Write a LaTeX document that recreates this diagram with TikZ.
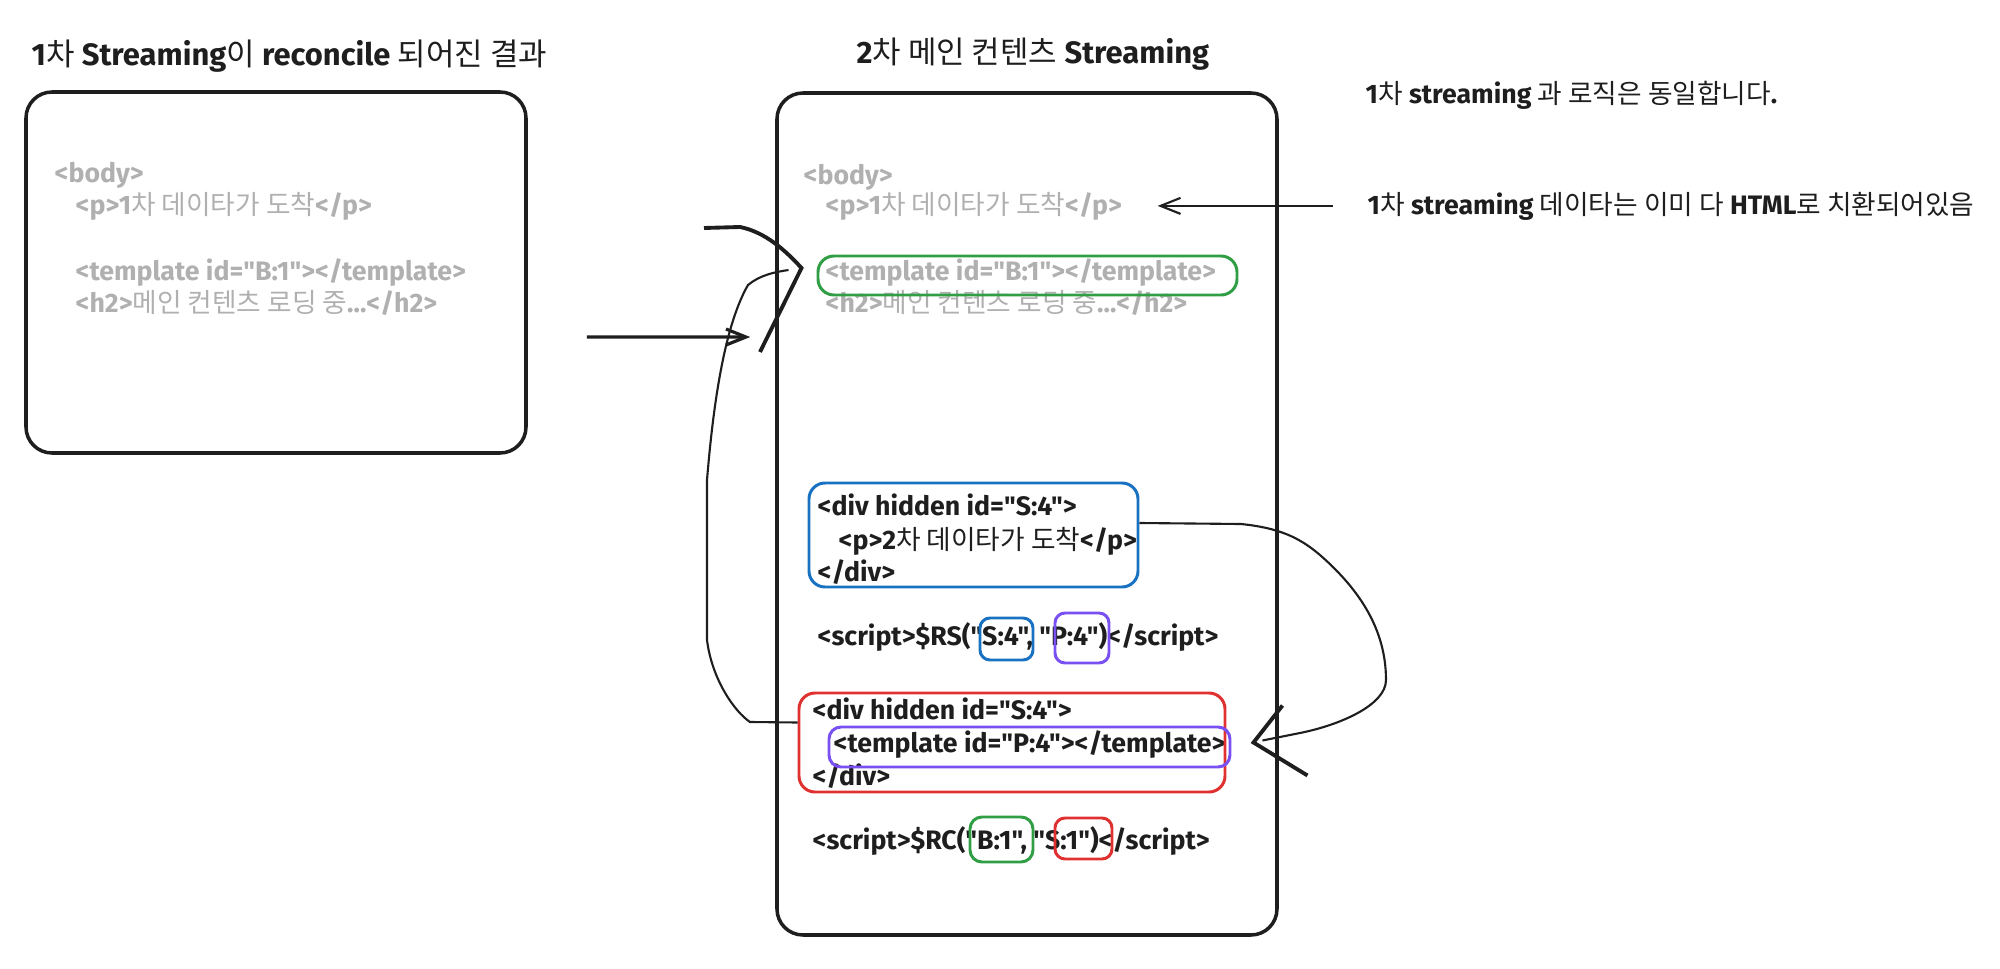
\documentclass[tikz,border=0pt]{standalone}
\usepackage{fontspec}
\usepackage{xcolor}
\setmainfont{Fira Sans}[Ligatures=TeXOff]
\newfontfamily\kr{Noto Sans CJK KR}
\usetikzlibrary{arrows.meta, calc}
\definecolor{ink}{HTML}{1E1E1E}
\definecolor{ghost}{HTML}{B0B0B0}
\definecolor{exgreen}{HTML}{2F9E44}
\definecolor{exblue}{HTML}{1971C2}
\definecolor{exred}{HTML}{E03131}
\definecolor{exviolet}{HTML}{7950F2}
\newcommand{\ko}[1]{{\kr\mdseries #1}}

\begin{document}
\begin{tikzpicture}[x=0.1mm, y=-0.1mm,
        frame/.style={draw=ink, line width=1pt, rounded corners=2.6mm},
        hilite/.style={line width=0.85pt, rounded corners=1.6mm},
        code/.style={anchor=base west, inner sep=0pt, text=ink,
            font=\bfseries\fontsize{7.6}{8}\selectfont},
        heading/.style={anchor=base west, inner sep=0pt, text=ink,
            font=\bfseries\fontsize{8.8}{10}\selectfont},
        wire/.style={draw=ink, line width=0.6pt},
        flow/.style={draw=ink, line width=0.9pt, -{Straight Barb[length=2mm, width=1.6mm]}}
    ]
        \useasboundingbox (0,0) rectangle (2000,969);

        % Titles
        \node[heading] (title1) at (31,65) {1\ko{차} Streaming\ko{이} reconcile \ko{되어진 결과}};
        \node[heading] (title2) at (856,63) {2\ko{차 메인 컨텐츠} Streaming};

        % Draw the two frames
        \node[frame, minimum width=50mm, minimum height=36.1mm] (box1) at (276,272.5) {};
        \node[frame, minimum width=50mm, minimum height=84.2mm] (box2) at (1027,514) {};

        % First result
        \node[code, text=ghost] (lbody) at (54,182) {<body>};
        \node[code, text=ghost] (lp) at (75,215) {<p>1\ko{차 데이타가 도착}</p>};
        \node[code, text=ghost] (ltpl) at (75,280) {<template id="B:1"></template>};
        \node[code, text=ghost] (lh2) at (75,312) {<h2>\ko{메인 컨텐츠 로딩 중}...</h2>};

        % Second streaming, old part
        \node[code, text=ghost] (mbody) at (803,184) {<body>};
        \node[code, text=ghost] (mp) at (825,215) {<p>1\ko{차 데이타가 도착}</p>};
        \node[code, text=ghost] (mtpl) at (825,281) {<template id="B:1"></template>};
        \node[code, text=ghost] (mh2) at (825,312) {<h2>\ko{메인 컨텐츠 로딩 중}...</h2>};
        \node[draw=exgreen, hilite, minimum width=41.9mm, minimum height=3.9mm] (greenbox) at (1027.5,275.5) {};

        % Second streaming, new part
        \node[code] (sdiv) at (817,515) {<div hidden id="S:4">};
        \node[code] (sp) at (838,549) {<p>2\ko{차 데이타가 도착}</p>};
        \node[code] (sdivend) at (817,581) {</div>};
        \node[draw=exblue, hilite, minimum width=32.9mm, minimum height=10.4mm] (bluebox) at (973.5,535) {};

        \node[code] (rs) at (817,645) {<script>\$RS("S:4", "P:4")</script>};
        \node[draw=exblue, hilite, rounded corners=1mm, minimum width=5.3mm, minimum height=4.2mm] (rsS) at (1006.5,639) {};
        \node[draw=exviolet, hilite, rounded corners=1mm, minimum width=5.4mm, minimum height=5mm] (rsP) at (1082,638) {};

        \node[code] (bdiv) at (812,719) {<div hidden id="S:4">};
        \node[code] (btpl) at (833,752) {<template id="P:4"></template>};
        \node[code] (bdivend) at (812,785) {</div>};
        \node[draw=exred, hilite, minimum width=42.6mm, minimum height=9.9mm] (redbox) at (1012,742.5) {};
        \node[draw=exviolet, hilite, rounded corners=1.2mm, minimum width=40.1mm, minimum height=4mm] (violetbox) at (1029.5,747) {};

        \node[code] (rc) at (812,849) {<script>\$RC("B:1", "S:1")</script>};
        \node[draw=exgreen, hilite, rounded corners=1.2mm, minimum width=6.3mm, minimum height=4.5mm] (rcB) at (1001.5,839.5) {};
        \node[draw=exred, hilite, rounded corners=1mm, minimum width=5.7mm, minimum height=4.1mm] (rcS) at (1083.5,838.5) {};

        % Notes
        \node[code] (note1) at (1365,103) {1\ko{차} streaming \ko{과 로직은 동일합니다}.};
        \node[code] (note2) at (1367,214) {1\ko{차} streaming \ko{데이타는 이미 다} HTML\ko{로 치환되어있음}};

        % Arrows
        \draw[flow] ($(box1.east)+(59,64.5)$) -- ($(box2.west)+(-25,-177)$);
        \draw[flow, line width=0.6pt] ([xshift=-3.4mm]note2.west) -- ([xshift=3.5mm]note2.west -| mp.east);

        \coordinate (oldB) at (704,228);
        \coordinate (tipB) at ($(greenbox.west)+(-15,-7.5)$);
        \draw[wire, line width=1.1pt] (oldB) -- (740,227) .. controls (765,232) and (785,250) .. (tipB) -- (760,352);
        \draw[wire] ([yshift=2mm]redbox.west) -- (750,722) .. controls (735,712) and (712,680) .. (707,640)
            -- (707,480) .. controls (712,420) and (722,330) .. (748,285)
            .. controls (760,275) and (775,272) .. ($(greenbox.west)+(-28,-5.5)$);

        \coordinate (tipS) at ([xshift=2.7mm]redbox.east);
        \draw[wire] ([yshift=1.2mm]bluebox.east) -- (1241,524) .. controls (1280,528) and (1300,538) .. (1320,555)
            .. controls (1360,590) and (1386,630) .. (1386,680)
            .. controls (1386,705) and (1340,725) .. (1300,733) -- ($(tipS)+(9,-2)$);
        \draw[wire, line width=1.1pt] ($(tipS)+(29,-37)$) -- (tipS) -- ($(tipS)+(54,33)$);
    \end{tikzpicture}
\end{document}
